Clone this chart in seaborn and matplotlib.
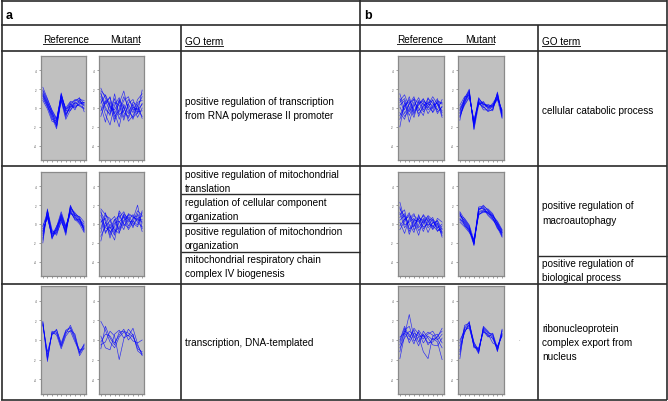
import matplotlib
matplotlib.use("Agg")
import matplotlib.pyplot as plt
import seaborn as sns
import pandas as pd

# ---------------- data ----------------
TIME = [0, 1, 2, 3, 4, 5, 6, 7, 8, 9]
Y_TICKS = [-4, -2, 0, 2, 4]

A1_REF = [
    [2.2, 1.0, -0.3, -1.2, 1.5, -0.2, 0.6, 0.8, 1.0, 0.5],
    [1.8, 0.7, -0.6, -1.5, 1.3, -0.6, 0.0, 0.5, 0.8, 0.2],
    [1.4, 0.3, -1.0, -2.2, 1.0, -1.0, 0.4, 0.1, 0.4, 0.6],
    [1.6, 0.6, -0.4, -1.8, 1.2, -0.3, -0.3, 0.6, 0.2, -0.1],
    [1.0, 0.2, -1.2, -1.4, 0.9, -0.8, 0.3, 0.9, 0.7, 0.4],
    [1.3, 0.4, -0.8, -1.9, 1.6, -0.4, 0.5, -0.2, 0.9, 0.8],
    [0.8, -0.1, -1.4, -1.6, 0.7, -1.2, -0.2, 0.3, 0.3, 0.0],
    [1.9, 0.9, -0.2, -1.1, 1.1, 0.0, 0.7, 0.4, 0.6, 0.3],
    [1.2, 0.1, -0.7, -2.0, 0.8, -0.7, 0.1, 0.7, 1.1, -0.4],
    [1.5, 0.5, -0.5, -1.3, 1.4, -0.1, 0.2, 0.0, 0.5, 0.6],
]
A1_MUT = [
    [2.1, 1.0, 0.2, -0.6, 0.5, 1.8, -0.3, -1.0, -0.5, 1.9],
    [1.5, 0.4, 1.2, -1.2, -0.4, 0.8, 1.2, -0.2, 0.0, -0.9],
    [0.9, -0.7, -1.8, 0.3, 1.1, -0.5, -0.9, 0.4, -0.6, 0.5],
    [-0.9, 0.8, -0.4, 1.0, -1.2, 0.2, -1.4, -0.8, 0.2, 1.2],
    [1.8, 1.3, 0.0, -0.2, 0.8, -1.0, 0.5, 0.9, -0.4, -0.3],
    [0.2, -1.5, 0.7, -0.9, -0.2, 1.2, 0.1, -1.2, 0.6, 0.8],
    [1.2, 0.1, -0.8, 1.5, -0.7, -0.3, 0.9, 0.2, -1.0, 0.0],
    [-0.3, 0.6, 1.1, -0.5, -2.0, 0.4, -0.6, 0.6, 0.3, -1.1],
    [1.6, -0.2, -0.6, 0.6, 0.3, -1.3, 0.4, -0.5, 0.9, 1.5],
    [0.5, 1.4, 0.3, -1.5, 0.9, 0.0, -1.1, 0.1, -0.2, 0.4],
]
A2_REF = [
    [-2.0, 1.6, -1.4, -0.8, 0.6, -1.0, 1.9, 1.0, 0.5, -0.8],
    [-1.2, 1.0, -1.6, -0.4, 1.1, -0.4, 1.5, 0.7, 0.3, -0.3],
    [-0.3, 1.3, -0.9, -0.9, 0.7, -0.8, 1.7, 1.2, 0.6, -0.6],
    [-0.8, 0.8, -1.1, -0.3, 1.3, -0.2, 1.3, 0.5, 0.0, -0.9],
    [-1.5, 1.5, -0.6, -1.2, 0.4, -0.9, 1.8, 0.9, 0.8, 0.2],
    [-0.5, 0.6, -1.3, -0.5, 0.9, -0.5, 1.2, 0.6, 0.2, -0.4],
    [-1.0, 1.1, -1.5, -0.2, 0.5, -1.2, 1.6, 1.1, 0.7, -0.7],
    [-0.2, 0.9, -0.8, -0.7, 1.0, -0.3, 1.4, 0.4, 0.5, 0.0],
    [-1.7, 1.4, -1.0, -1.0, 0.2, -0.7, 2.0, 0.8, 0.1, -0.5],
    [-0.7, 0.7, -1.2, -0.6, 0.8, -0.6, 1.1, 0.9, 0.4, -0.2],
]
A2_MUT = [
    [1.6, 1.0, 0.3, -0.6, -1.0, 1.1, 0.5, -0.2, 0.6, 0.8],
    [-1.8, 0.2, -1.2, 0.4, 0.9, 0.0, -0.4, 0.5, 2.0, -0.5],
    [0.5, -0.8, -0.3, -1.2, 1.4, 0.6, 0.9, 0.1, -0.3, 1.2],
    [1.2, 0.4, -1.5, 0.1, 0.3, -0.6, 1.1, 0.8, 0.4, 0.3],
    [-0.9, 0.9, 0.6, -0.8, -0.4, 1.0, -0.2, 0.6, 0.9, -0.8],
    [0.9, -0.4, -0.7, -1.7, 0.7, 1.3, 0.2, 0.3, -0.1, 1.4],
    [-1.3, -0.2, 0.3, 0.8, -0.6, 0.4, 0.7, -0.4, 1.1, 0.1],
    [0.2, 0.6, -0.9, -0.3, 1.2, -0.2, 0.4, 1.0, 0.2, -0.3],
    [1.4, -1.0, 0.0, -1.0, 0.2, 0.8, -0.6, 0.2, 1.4, 0.9],
    [-0.5, 1.2, -0.5, 0.5, -0.9, 0.2, 1.0, 0.7, 0.5, 0.5],
]
A3_REF = [
    [1.8, -2.2, 0.9, 0.8, -0.7, 0.6, 1.5, 0.4, -1.4, -0.6],
    [1.6, -1.5, 0.6, 1.1, -0.5, 0.9, 1.2, 0.0, -1.0, -0.9],
    [1.9, -1.8, 0.8, 0.5, -0.9, 0.4, 1.0, 0.6, -1.3, -0.4],
    [1.5, -1.2, 0.5, 1.0, -0.3, 1.0, 1.3, 0.2, -1.6, -0.8],
    [1.7, -2.0, 0.7, 0.7, -0.6, 0.8, 0.9, -0.2, -1.2, -0.5],
]
A3_MUT = [
    [1.9, 1.0, -0.2, -0.8, 0.3, 0.8, 0.4, 1.2, -0.4, -1.6],
    [-0.9, 1.4, 0.2, -0.5, 0.8, 0.9, 0.7, 0.3, -0.6, -1.4],
    [0.4, -0.8, -1.0, 0.6, 1.0, 0.2, 0.5, -0.1, -0.3, 0.0],
    [-0.5, -0.2, 0.9, 0.4, -2.0, 0.1, 1.1, 0.5, -0.9, -1.2],
    [-0.2, 0.6, 0.4, -0.3, 0.5, 1.1, 0.0, 0.6, -1.1, -1.5],
]
B1_REF = [
    [1.5, -0.2, 1.2, -0.5, 0.3, 0.9, 0.2, -0.4, 0.8, 0.5],
    [-2.0, 0.6, -0.8, 0.4, -0.6, 0.1, 1.0, 0.5, -0.2, 0.9],
    [0.8, 1.4, 0.1, -1.0, 0.7, -0.4, 0.3, 1.2, 0.4, -0.3],
    [-0.5, -1.2, 0.5, 0.9, -0.3, 0.6, -0.6, 0.2, 1.0, -0.8],
    [0.3, 0.8, -1.5, 0.2, 1.1, -0.2, 0.7, -0.5, 0.3, 0.6],
    [1.0, -0.6, 0.4, 1.2, -0.9, 0.3, 0.5, 0.8, -0.6, 0.2],
    [-1.2, 0.3, 0.9, -0.3, 0.4, 1.0, -0.2, 0.1, 0.6, -1.0],
    [0.6, 1.0, -0.4, 0.6, 0.0, -0.8, 1.1, -0.1, 0.7, 0.4],
    [-0.8, 0.2, 0.7, -0.7, 0.8, 0.4, 0.0, 0.9, -0.4, 0.1],
    [0.1, -0.9, -0.2, 1.0, 0.5, 0.7, 0.4, 0.3, 0.5, -0.5],
]
B1_MUT = [
    [-0.3, 1.0, 2.0, -2.2, 0.9, 0.5, 0.2, 0.0, 1.6, -0.9],
    [-1.0, 0.6, 1.4, -1.6, 0.5, 0.1, -0.3, 0.3, 1.1, -0.5],
    [0.0, 0.9, 1.7, -2.0, 1.0, 0.4, 0.1, -0.2, 1.4, -0.8],
    [-0.6, 0.4, 1.2, -1.4, 0.4, 0.6, -0.1, 0.4, 1.0, -0.3],
    [-1.3, 1.1, 1.8, -1.9, 0.6, 0.0, 0.3, 0.2, 1.5, -1.0],
    [-0.2, 0.7, 1.5, -1.7, 0.8, 0.2, -0.4, -0.1, 1.2, -0.6],
    [-0.8, 0.5, 1.9, -2.3, 0.3, 0.7, 0.0, 0.5, 1.3, -0.4],
    [0.3, 1.2, 1.3, -1.5, 1.1, 0.3, 0.4, 0.1, 0.9, -1.1],
    [-0.5, 0.8, 1.6, -1.8, 0.7, -0.2, -0.2, -0.3, 1.7, -0.7],
    [-0.9, 0.3, 1.1, -1.2, 0.6, 0.4, 0.2, 0.2, 1.0, -0.2],
]
B2_REF = [
    [2.3, 0.4, 1.2, -0.3, 0.8, 0.1, 0.6, 0.3, -0.5, -0.9],
    [1.0, 1.5, -0.8, 0.5, 0.2, 0.9, -0.2, 0.5, 0.0, -1.2],
    [0.2, -1.0, 0.6, 1.1, -0.4, 0.3, 0.8, -0.3, 0.4, -0.6],
    [1.6, 0.8, 0.0, -0.9, 1.0, -0.5, 0.2, 0.7, -0.8, -0.2],
    [-0.6, 0.3, 1.0, 0.2, -1.2, 0.6, -0.4, 0.1, 0.3, -1.0],
    [1.2, -0.4, 0.4, 0.9, 0.4, -0.8, 0.5, -0.5, 0.6, 0.2],
    [0.7, 1.1, -0.5, -0.2, 0.6, 0.4, -0.9, 0.2, -0.2, -0.8],
    [-0.2, 0.5, 0.8, -0.6, -0.1, 1.0, 0.3, -0.6, 0.1, -1.4],
    [1.8, -0.1, 0.2, 0.6, -0.7, 0.0, 0.9, 0.4, -0.4, 0.0],
    [0.4, 0.9, -1.1, 0.3, 0.5, -0.3, 0.0, -0.2, -0.7, -0.5],
]
B2_MUT = [
    [1.3, 0.5, -0.2, -2.3, 1.8, 1.9, 1.5, 1.0, 0.2, -0.8],
    [0.6, 0.0, -0.7, -1.8, 1.2, 1.4, 1.2, 0.6, -0.3, -1.2],
    [1.0, 0.3, -0.4, -2.1, 1.5, 1.7, 1.1, 0.9, 0.0, -0.9],
    [0.2, -0.3, -0.9, -1.6, 1.0, 1.3, 1.4, 0.7, -0.4, -1.4],
    [0.8, 0.4, -0.3, -2.0, 1.6, 1.8, 1.0, 0.5, 0.1, -0.7],
    [1.1, 0.1, -0.6, -1.9, 1.3, 1.5, 1.6, 1.1, -0.2, -1.1],
    [0.4, -0.1, -0.8, -2.2, 1.1, 1.2, 1.3, 0.8, 0.3, -0.6],
    [0.9, 0.6, -0.1, -1.7, 1.7, 1.6, 0.9, 0.4, -0.1, -1.3],
    [0.5, 0.2, -0.5, -2.1, 1.4, 2.0, 1.4, 0.9, 0.0, -1.0],
    [1.2, -0.2, -0.6, -1.8, 0.9, 1.4, 1.2, 0.6, -0.5, -0.9],
]
B3_REF = [
    [-1.9, 0.5, 2.6, 0.2, 0.8, -0.3, 0.4, 0.0, 0.3, 1.2],
    [0.0, 1.4, 0.3, 1.0, -0.2, 0.6, -0.5, 0.2, -0.2, -2.0],
    [-0.5, 0.9, 0.6, -0.4, 1.0, 0.3, 0.8, 0.5, 0.0, 0.6],
    [-0.2, 1.2, -0.3, 0.7, 0.4, -1.2, -1.9, 0.4, 0.6, -0.3],
    [-0.8, 0.2, 0.9, 0.5, -0.6, 0.9, 0.2, -0.5, -0.6, 0.2],
    [0.3, 0.7, 0.0, 1.2, 0.6, 0.1, 0.6, 0.9, 0.1, -0.8],
    [-1.2, 1.0, 1.4, -0.1, 0.3, 0.5, -0.3, -0.2, 0.4, 0.9],
]
B3_MUT = [
    [-1.9, 1.3, 1.8, -0.4, -1.3, 1.3, 0.7, 0.6, -1.0, 0.9],
    [0.0, 0.9, 1.4, -0.7, -0.9, 1.0, 0.4, 0.2, -0.7, 0.5],
    [-1.2, 1.5, 1.7, -0.2, -1.2, 1.2, 0.8, 0.5, -1.2, 1.0],
    [-0.6, 0.7, 1.9, -0.8, -0.8, 0.9, 0.3, 0.7, -0.8, 0.6],
    [-1.5, 1.1, 1.2, -0.5, -1.4, 1.4, 0.9, 0.1, -0.9, 1.1],
    [-0.3, 1.2, 1.5, -0.3, -1.0, 0.8, 0.6, -0.3, -0.6, 0.4],
    [-1.0, 0.8, 1.6, -0.6, -1.1, 1.1, 0.5, 0.4, -1.1, 0.7],
]

PANEL_LABELS = ["a", "b"]
HEADER_PROFILES = ["Reference", "Mutant"]
HEADER_GO = "GO term"

GO_A1 = ["positive regulation of transcription", "from RNA polymerase II promoter"]
GO_A2 = [["positive regulation of mitochondrial", "translation"],
         ["regulation of cellular component", "organization"],
         ["positive regulation of mitochondrion", "organization"],
         ["mitochondrial respiratory chain", "complex IV biogenesis"]]
GO_A3 = ["transcription, DNA-templated"]
GO_B1 = ["cellular catabolic process"]
GO_B2 = [["positive regulation of", "macroautophagy"],
         ["positive regulation of", "biological process"]]
GO_B3 = ["ribonucleoprotein", "complex export from", "nucleus"]

# ---------------- figure ----------------
W, H = 668, 402
plt.rcParams["font.family"] = ["Liberation Sans", "DejaVu Sans"]
fig = plt.figure(figsize=(W / 100, H / 100), dpi=100)
fig.patch.set_facecolor("white")

ov = fig.add_axes([0, 0, 1, 1])
ov.set_xlim(0, W)
ov.set_ylim(H, 0)
ov.axis("off")

LC = "#2b2b2b"
LW = 1.2


def hline(y, x0, x1, lw=LW):
    ov.plot([x0, x1], [y, y], color=LC, lw=lw, solid_capstyle="butt")


def vline(x, y0, y1, lw=LW):
    ov.plot([x, x], [y0, y1], color=LC, lw=lw, solid_capstyle="butt")


# outer frame and grid
hline(1.5, 1, 667)
hline(400.5, 1, 667)
vline(1.5, 1, 401)
vline(666.5, 1, 401)
vline(359.5, 1, 401)
hline(26, 1, 667)
hline(51.5, 1, 667)
hline(166.5, 1, 667)
hline(284.5, 1, 667)
vline(180.5, 26, 401)
vline(537.5, 26, 401)
for y in (194.5, 223.5, 252.5):
    hline(y, 180.5, 359.5, lw=1.0)
hline(256.5, 537.5, 666.5, lw=1.0)

FS = 7.2
# panel letters
ov.text(6, 16, PANEL_LABELS[0], fontsize=9, fontweight="bold", va="center", ha="left")
ov.text(364, 16, PANEL_LABELS[1], fontsize=9, fontweight="bold", va="center", ha="left")

# headers
for (xr, xm, xu0, xu1, xg, xg1) in [(43, 110, 43, 139, 185, 223), (397, 465, 397, 494, 542, 580)]:
    ov.text(xr, 40, HEADER_PROFILES[0], fontsize=FS, va="center", ha="left")
    ov.text(xm, 40, HEADER_PROFILES[1], fontsize=FS, va="center", ha="left")
    ov.plot([xu0, xu1], [45, 45], color="#222", lw=0.7)
    ov.text(xg, 42, HEADER_GO, fontsize=FS, va="center", ha="left")
    ov.plot([xg, xg1], [47, 47], color="#222", lw=0.7)


def go_lines(lines, x, ys):
    for s, y in zip(lines, ys):
        ov.text(x, y, s, fontsize=FS, va="center", ha="left")


go_lines(GO_A1, 185, [102, 116])
for lines, y0 in zip(GO_A2, [175, 203, 232, 260]):
    go_lines(lines, 185, [y0, y0 + 14])
go_lines(GO_A3, 185, [343])
go_lines(GO_B1, 542, [111])
go_lines(GO_B2[0], 542, [206, 221])
go_lines(GO_B2[1], 542, [264, 278])
go_lines(GO_B3, 542, [329, 343, 357])
ov.text(519, 340, ".", fontsize=4, color="#666", ha="center", va="center")


def panel(data, x0, x1, y0, y1):
    ax = fig.add_axes([x0 / W, 1 - y1 / H, (x1 - x0) / W, (y1 - y0) / H])
    rows = []
    for i, series in enumerate(data):
        for t, v in zip(TIME, series):
            rows.append({"t": t, "v": v, "line": i})
    df = pd.DataFrame(rows)
    sns.lineplot(data=df, x="t", y="v", units="line", estimator=None,
                 color="#0000ff", lw=0.45, alpha=0.8, ax=ax, legend=False)
    ax.set_facecolor("#c0c0c0")
    ax.set_xlim(-0.4, 9.4)
    ax.set_ylim(-5.5, 5.5)
    ax.set_xticks(TIME)
    ax.set_xticklabels([])
    ax.set_yticks(Y_TICKS)
    ax.set_yticklabels([str(v) for v in Y_TICKS])
    ax.tick_params(axis="y", length=1.5, width=0.4, pad=1.5, labelsize=2.2,
                   colors="#555555")
    ax.tick_params(axis="x", length=1.5, width=0.4, colors="#555555")
    ax.set_xlabel("")
    ax.set_ylabel("")
    for sp in ax.spines.values():
        sp.set_color("#8a8a8a")
        sp.set_linewidth(0.9)
    return ax


ROWS_Y = [(57, 161), (173, 277), (287, 395)]
COLS_X = [(41, 86), (99, 144), (398, 444), (458, 504)]
PANEL_DATA = [[A1_REF, A1_MUT, B1_REF, B1_MUT],
              [A2_REF, A2_MUT, B2_REF, B2_MUT],
              [A3_REF, A3_MUT, B3_REF, B3_MUT]]
for r, (y0, y1) in enumerate(ROWS_Y):
    for c, (x0, x1) in enumerate(COLS_X):
        panel(PANEL_DATA[r][c], x0, x1, y0, y1)

fig.savefig("out.png", dpi=100)
